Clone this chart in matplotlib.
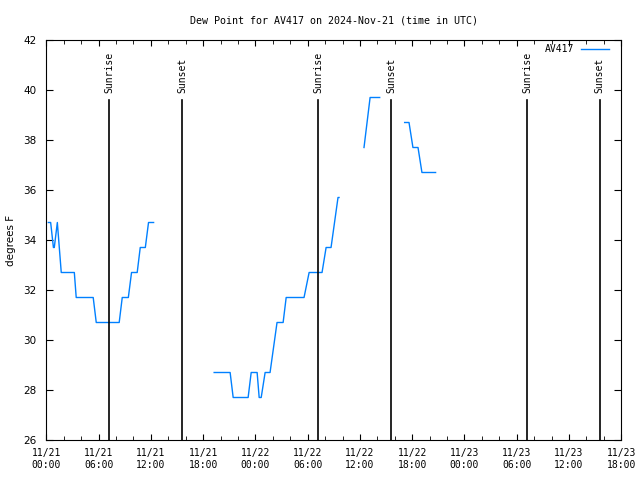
import numpy as np
import pandas as pd
import matplotlib
matplotlib.use("Agg")
import matplotlib.pyplot as plt
import matplotlib.dates as mdates

# dew point samples (gaps = missing data)
times = [
    "2024-11-21 00:14", "2024-11-21 00:30", "2024-11-21 00:49", "2024-11-21 00:55",
    "2024-11-21 01:16", "2024-11-21 01:43", "2024-11-21 03:13", "2024-11-21 03:26",
    "2024-11-21 05:23", "2024-11-21 05:44", "2024-11-21 08:22", "2024-11-21 08:43",
    "2024-11-21 09:25", "2024-11-21 09:47", "2024-11-21 10:26", "2024-11-21 10:47",
    "2024-11-21 11:22", "2024-11-21 11:44", "2024-11-21 12:19",
    "2024-11-21 15:00",
    "2024-11-21 19:16", "2024-11-21 21:06", "2024-11-21 21:27", "2024-11-21 23:10",
    "2024-11-21 23:31", "2024-11-22 00:12", "2024-11-22 00:26", "2024-11-22 00:40",
    "2024-11-22 01:07", "2024-11-22 01:41", "2024-11-22 02:29", "2024-11-22 03:11",
    "2024-11-22 03:32", "2024-11-22 05:35", "2024-11-22 06:10", "2024-11-22 07:39",
    "2024-11-22 08:07", "2024-11-22 08:41", "2024-11-22 09:29", "2024-11-22 09:36",
    "2024-11-22 11:00",
    "2024-11-22 12:28", "2024-11-22 13:10", "2024-11-22 14:16",
    "2024-11-22 15:30",
    "2024-11-22 17:08", "2024-11-22 17:38", "2024-11-22 18:05", "2024-11-22 18:40",
    "2024-11-22 19:07", "2024-11-22 20:41",
]
dewpoint = [
    34.7, 34.7, 33.7, 33.7,
    34.7, 32.7, 32.7, 31.7,
    31.7, 30.7, 30.7, 31.7,
    31.7, 32.7, 32.7, 33.7,
    33.7, 34.7, 34.7,
    np.nan,
    28.7, 28.7, 27.7, 27.7,
    28.7, 28.7, 27.7, 27.7,
    28.7, 28.7, 30.7, 30.7,
    31.7, 31.7, 32.7, 32.7,
    33.7, 33.7, 35.7, 35.7,
    np.nan,
    37.7, 39.7, 39.7,
    np.nan,
    38.7, 38.7, 37.7, 37.7,
    36.7, 36.7,
]

sun_times = ["2024-11-21 07:13", "2024-11-21 15:38", "2024-11-22 07:11",
             "2024-11-22 15:37", "2024-11-23 07:10", "2024-11-23 15:32"]
sun_labels = ["Sunrise", "Sunset", "Sunrise", "Sunset", "Sunrise", "Sunset"]

mono = "DejaVu Sans Mono"

fig = plt.figure(figsize=(6.4, 4.8), dpi=100)
ax = fig.add_axes([46.3 / 640, 40 / 480, 575 / 640, 400 / 480])

t = pd.to_datetime(times)
ax.plot(t, dewpoint, color="#0080ff", lw=1.0, label="AV417")

# sunrise / sunset markers
for st, lab in zip(pd.to_datetime(sun_times), sun_labels):
    ax.axvline(st, ymin=0, ymax=0.85, color="black", lw=1.2)
    ax.text(st, 0.8675, lab, transform=ax.get_xaxis_transform(), rotation=90,
            ha="center", va="bottom", fontsize=7, family=mono)

ax.set_xlim(pd.Timestamp("2024-11-21 00:00"), pd.Timestamp("2024-11-23 18:00"))
ax.set_ylim(26, 42)
ax.set_yticks(np.arange(26, 43, 2))
ax.xaxis.set_major_locator(mdates.HourLocator(byhour=[0, 6, 12, 18]))
ax.xaxis.set_minor_locator(mdates.HourLocator(byhour=range(0, 24, 2)))
ax.xaxis.set_major_formatter(mdates.DateFormatter("%m/%d\n%H:%M"))

ax.tick_params(axis="both", which="both", direction="in", top=True, right=True)
ax.tick_params(axis="x", which="major", length=4.5, labelsize=7, pad=6)
ax.tick_params(axis="x", which="minor", length=3)
ax.tick_params(axis="y", which="major", length=5, labelsize=7.5, pad=7)
for lab in ax.get_xticklabels():
    lab.set_family(mono)

ax.set_ylabel("degrees F", fontsize=7.5, labelpad=5)
ax.set_title("Dew Point for AV417 on 2024-Nov-21 (time in UTC)",
             fontsize=7.2, family=mono, pad=12)

ax.legend(loc="upper right", bbox_to_anchor=(0.990, 1.007), frameon=False,
          markerfirst=False, handlelength=2.9, handletextpad=0.7,
          borderpad=0.2, prop={"family": mono, "size": 7})

fig.savefig("out.png", dpi=100)
